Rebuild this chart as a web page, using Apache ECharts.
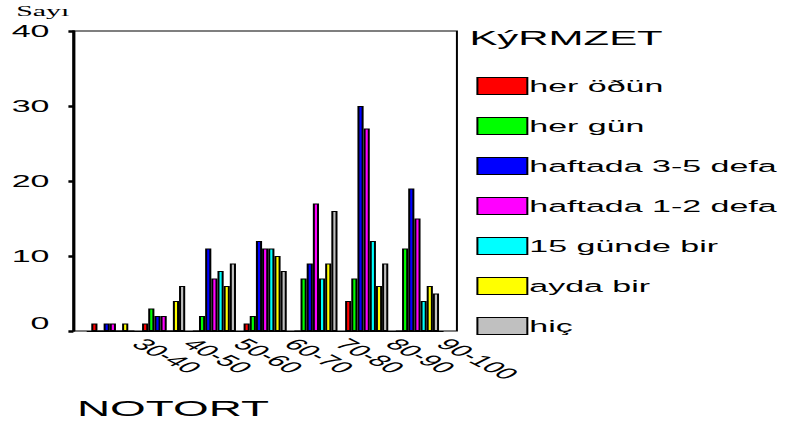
<!DOCTYPE html>
<html><head><meta charset="utf-8">
<script src="https://cdn.jsdelivr.net/npm/echarts@6/dist/echarts.min.js"></script>
<style>
html,body{margin:0;padding:0;background:#fff;overflow:hidden;}
#wrap{width:791px;height:427px;overflow:hidden;}
#chart{width:396px;height:427px;transform:scaleX(1.99747);transform-origin:0 0;}
</style></head><body>
<div id="wrap"><div id="chart"></div></div>
<script>
// ---- data ----
const categories = ['30-40', '40-50', '50-60', '60-70', '70-80', '80-90', '90-100'];
const seriesNames = ['her öðün', 'her gün', 'haftada 3-5 defa', 'haftada 1-2 defa', '15 günde bir', 'ayda bir', 'hiç'];
const herOgun   = [1, 1, 0, 1, 0, 4, 0];
const herGun    = [0, 3, 2, 2, 7, 7, 11];
const haftada35 = [1, 2, 11, 12, 9, 30, 19];
const haftada12 = [1, 2, 7, 11, 17, 27, 15];
const gunde15   = [0, 0, 8, 11, 7, 12, 4];
const aydaBir   = [1, 4, 6, 10, 9, 6, 6];
const hic       = [0, 6, 9, 8, 16, 9, 5];
const yTickLabels = ['0', '10', '20', '30', '40'];
const yMin = 0, yMax = 40, yInterval = 10;

// ---- styles ----
const colors = ['#ff0000', '#00ff00', '#0000ff', '#ff00ff', '#00ffff', '#ffff00', '#c0c0c0'];
const values = [herOgun, herGun, haftada35, haftada12, gunde15, aydaBir, hic];
const sans = 'Liberation Sans';

const chart = echarts.init(document.getElementById('chart'), null, {renderer: 'svg'});
const option = {
  animation: false,
  backgroundColor: '#fff',
  title: [
    {text: 'KýRMZET', left: 235, top: 27, padding: 0,
     textStyle: {fontFamily: sans, fontSize: 21, fontWeight: 'normal', color: '#000'}},
    {text: 'NOTORT', left: 38.5, top: 397, padding: 0,
     textStyle: {fontFamily: sans, fontSize: 23, fontWeight: 'normal', color: '#000'}}
  ],
  legend: {
    orient: 'vertical', left: 238.5, top: 77, padding: 0,
    itemWidth: 25, itemHeight: 17, itemGap: 22, icon: 'rect', selectedMode: false,
    itemStyle: {borderColor: '#000', borderWidth: 1},
    textStyle: {fontFamily: sans, fontSize: 17, color: '#000', lineHeight: 17, padding: [0, 0, 0, -4]},
    data: seriesNames
  },
  grid: [
    {left: 36.75, top: 31, width: 192, height: 300, show: true, borderColor: '#000', borderWidth: 1, backgroundColor: 'transparent'},
    {left: 43.8, top: 31, width: 177.9, height: 300}
  ],
  xAxis: [
    {gridIndex: 0, type: 'value', min: 0, max: 1, show: false},
    {gridIndex: 1, type: 'category', data: categories,
     axisLine: {lineStyle: {color: '#000', width: 1}},
     axisTick: {alignWithLabel: true, length: 2.5, lineStyle: {width: 3, color: '#000'}},
     axisLabel: {interval: 0, rotate: -45, margin: -2.5, padding: [0, 0, 0, 18], fontFamily: sans, fontSize: 16, color: '#000'}}
  ],
  yAxis: [
    {gridIndex: 0, type: 'value', min: yMin, max: yMax, interval: yInterval,
     name: 'Sayı', nameLocation: 'end', nameGap: 20,
     nameTextStyle: {align: 'right', verticalAlign: 'middle', fontFamily: 'Liberation Serif', fontSize: 15, color: '#000', padding: [0, 2, 0, 0]},
     axisLine: {show: true, lineStyle: {color: '#000', width: 1.5}},
     axisTick: {show: true, length: 2.5, lineStyle: {width: 2.5, color: '#000'}},
     splitLine: {show: false},
     axisLabel: {margin: 12, fontFamily: sans, fontSize: 17, color: '#000',
       formatter: function (v) {
         const lab = yTickLabels[Math.round((v - yMin) / yInterval)];
         return v === 0 ? '{z|' + lab + '}' : lab;
       },
       rich: {z: {padding: [0, 0, 16, 0], fontFamily: sans, fontSize: 17, color: '#000'}}}},
    {gridIndex: 1, type: 'value', min: yMin, max: yMax, interval: yInterval, show: false}
  ],
  series: values.map(function (d, i) {
    return {
      name: seriesNames[i], type: 'bar', xAxisIndex: 1, yAxisIndex: 1, data: d,
      barGap: '0%', barCategoryGap: '15%',
      itemStyle: {color: colors[i], borderColor: '#000', borderWidth: 1}
    };
  })
};
chart.setOption(option);
</script>
</body></html>
